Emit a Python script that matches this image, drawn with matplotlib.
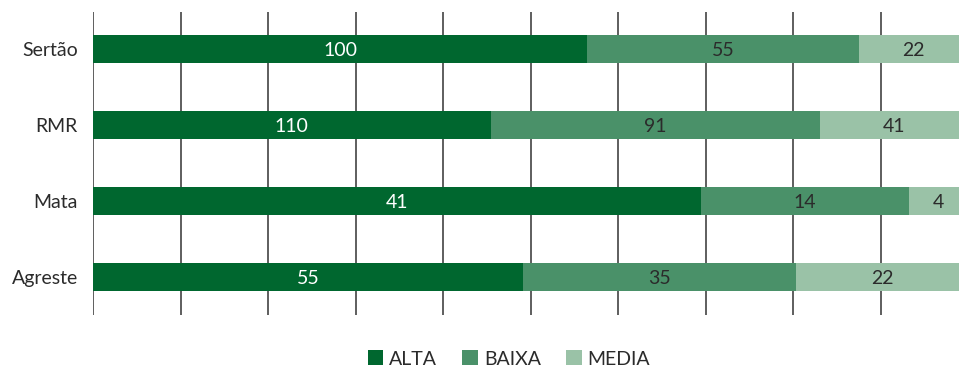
import numpy as np
import matplotlib
matplotlib.use('Agg')
import matplotlib.pyplot as plt

regions = ['Agreste', 'Mata', 'RMR', 'Sertão']
alta = [55, 41, 110, 100]
baixa = [35, 14, 91, 55]
media = [22, 4, 41, 22]

series = [('ALTA', alta, '#00672f', 'white'),
          ('BAIXA', baixa, '#4a9169', '#2b2b2b'),
          ('MEDIA', media, '#9ac2a7', '#2b2b2b')]

plt.rcParams['font.family'] = ['Lato', 'DejaVu Sans']

totals = np.array(alta) + np.array(baixa) + np.array(media)
y = np.arange(len(regions))

fig = plt.figure(figsize=(9.59, 3.69), dpi=100)
ax = fig.add_axes([93/959, 1 - 315/369, 875/959, 303/369])

left = np.zeros(len(regions))
for name, vals, color, tcolor in series:
    frac = np.array(vals) / totals * 100
    ax.barh(y, frac, left=left, height=0.37, color=color, label=name, zorder=2)
    for i in range(len(regions)):
        ax.text(left[i] + frac[i] / 2, y[i] - 0.02, str(vals[i]), ha='center', va='center',
                color=tcolor, fontsize=14, zorder=3)
    left += frac

ax.set_xlim(0, 100)
ax.set_ylim(-0.5, 3.49)
ax.set_xticks(np.arange(0, 101, 10))
ax.xaxis.grid(True, color='#333333', linewidth=1.1, zorder=1)
ax.tick_params(axis='x', length=0, labelbottom=False)
ax.tick_params(axis='y', length=0, labelsize=14, labelcolor='#2b2b2b', pad=11)
ax.set_yticks(y)
ax.set_yticklabels(regions)
for s in ax.spines.values():
    s.set_visible(False)

fig.legend(loc='center', bbox_to_anchor=(509/959, 1 - 359/369), ncol=3, frameon=False,
           fontsize=14, handlelength=0.8, handleheight=0.8, handletextpad=0.3,
           columnspacing=1.3, labelcolor='#2b2b2b')

fig.savefig('out.png', dpi=100)
